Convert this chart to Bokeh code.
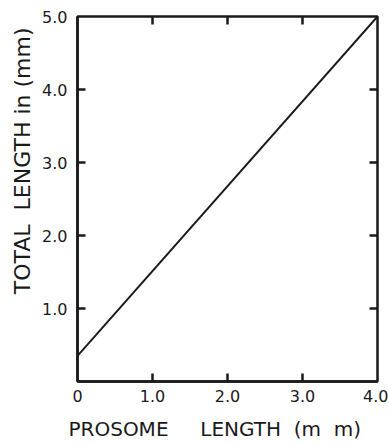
import math
from bokeh.plotting import figure
from bokeh.models import Range1d, LinearAxis, FixedTicker, Title
from bokeh.embed import file_html
from bokeh.resources import INLINE

# Data
prosome_length = [0.0, 4.0]
total_length = [0.35, 5.0]

x_ticks = [0, 1, 2, 3, 4]
x_tick_labels = {0: "0", 1: "1.0", 2: "2.0", 3: "3.0", 4: "4.0"}
y_ticks = [0, 1, 2, 3, 4, 5]
y_tick_labels = {0: "", 1: "1.0", 2: "2.0", 3: "3.0", 4: "4.0", 5: "5.0"}

X_MIN, X_MAX = 0.0, 4.0
Y_MIN, Y_MAX = 0.0, 5.0

INK = "#1a1a1a"
FONT = "DejaVu Sans"

p = figure(width=388, height=443, output_backend="svg", toolbar_location=None,
           x_range=Range1d(X_MIN, X_MAX), y_range=Range1d(Y_MIN, Y_MAX),
           x_axis_location=None, y_axis_location=None,
           min_border_left=77, min_border_right=11, min_border_top=16, min_border_bottom=58)
p.background_fill_color = "white"
p.border_fill_color = "white"
p.outline_line_color = INK
p.outline_line_width = 2.5
p.xgrid.visible = False
p.ygrid.visible = False

def style_axis(ax):
    ax.axis_line_color = INK
    ax.axis_line_width = 2.5
    ax.major_tick_in = 0
    ax.major_tick_out = 0
    ax.minor_tick_line_color = None
    ax.major_label_text_font = FONT
    ax.major_label_text_font_size = "16px"
    ax.major_label_text_color = INK

xb = LinearAxis(ticker=FixedTicker(ticks=x_ticks), major_label_overrides=x_tick_labels)
style_axis(xb)
xb.major_label_standoff = 8
xb.axis_label = ("PROSOME\u00a0\u00a0\u00a0\u00a0\u00a0LENGTH\u00a0\u00a0(m\u00a0\u00a0m)"
                 "\u00a0\u00a0\u00a0\u00a0")
xb.axis_label_text_font = FONT
xb.axis_label_text_font_size = "20px"
xb.axis_label_text_font_style = "normal"
xb.axis_label_text_color = INK
xb.axis_label_standoff = 12
p.add_layout(xb, "below")

yl = LinearAxis(ticker=FixedTicker(ticks=y_ticks), major_label_overrides=y_tick_labels)
style_axis(yl)
yl.major_label_standoff = 10
p.add_layout(yl, "left")

ytitle = Title(text="TOTAL\u00a0\u00a0LENGTH\u00a0in\u00a0(mm)", align="right", offset=11,
               text_font=FONT, text_font_size="22px", text_font_style="normal",
               text_color=INK, standoff=10)
p.add_layout(ytitle, "left")

# inward tick marks on all four sides
xi = [t for t in x_ticks if X_MIN < t < X_MAX]
yi = [t for t in y_ticks if Y_MIN < t < Y_MAX]
TICK = dict(length=8, length_units="screen", line_color=INK, line_width=2.5)
p.ray(xi, [Y_MIN] * len(xi), angle=math.pi / 2, **TICK)
p.ray(xi, [Y_MAX] * len(xi), angle=-math.pi / 2, **TICK)
p.ray([X_MIN] * len(yi), yi, angle=0, **TICK)
p.ray([X_MAX] * len(yi), yi, angle=math.pi, **TICK)

p.line(prosome_length, total_length, line_color=INK, line_width=2)

open("out.html", "w").write(file_html(p, INLINE))
